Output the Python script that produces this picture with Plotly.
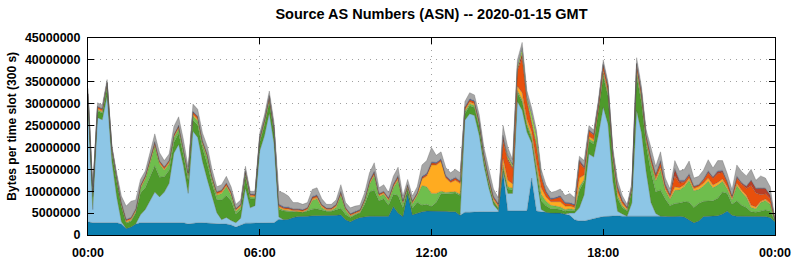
import pandas as pd
import plotly.graph_objects as go

# 10-minute slots over 2020-01-15 (in millions of bytes per 300 s slot)
times = pd.date_range("2020-01-15 00:00", periods=145, freq="10min")

dark_blue = [3, 2.8, 2.8, 2.8, 2.7, 2.8, 2.8, 2.5, 1.5, 1.8,
             2.5, 2.8, 2.8, 2.8, 2.8, 2.7, 2.8, 2.8, 2.7, 2.7,
             2.8, 2.5, 2.7, 2.8, 2.8, 2.7, 2.7, 2.6, 2.5, 2.5,
             2.3, 1.8, 2.3, 2.7, 2.7, 2.7, 2.7, 2.7, 2.8, 2.8,
             3.6, 3.5, 3.6, 4, 4.2, 4.2, 4.3, 4.4, 4.4, 4.4,
             4.4, 4.4, 4.5, 4.6, 3.5, 3, 3.6, 4, 4.2, 4.3,
             4.3, 4.3, 4.3, 4.3, 6.5, 5, 4.2, 9.5, 4.6, 5,
             5.3, 5.5, 5.5, 5.5, 5.5, 5.4, 5.3, 5.3, 4.5, 5.2,
             5.2, 5.3, 5.3, 5.3, 5.3, 5.4, 5.3, 14.5, 5.5, 5.5,
             5.5, 5.5, 5.5, 13, 5.5, 5.3, 5.2, 5, 5, 5,
             4.8, 4.5, 3.5, 3.2, 3.2, 3.5, 3.8, 4, 4.2, 4.3,
             4.4, 4.4, 4.3, 4.3, 4.3, 4.4, 4.4, 4.4, 4.4, 4.4,
             4.3, 4.2, 4.2, 4.2, 4.3, 4.1, 3.5, 2.8, 3.2, 4.2,
             4.3, 4.3, 4.4, 4.8, 5.5, 4.5, 4.3, 4.3, 4.3, 4.3,
             4.2, 4.2, 4.2, 4, 3]
light_blue = [26, 3, 24, 23.5, 29, 14, 6, .5, 0, 0,
              0, 1.8, 3, 5, 7, 6, 7, 9, 16, 18,
              13, 7, 21, 19.5, 14, 10, 6, 2.5, 1, 1.5,
              1, 1, 1.5, 8, 3.5, 4, 16.5, 20, 25, 18,
              .5, 0, 0, 0, 0, 0, 0, 0, 0, 0,
              0, 0, 0, 0, 0, 0, 0, 0, 0, 0,
              0, 0, 0, 0, 0, 0, 0, 0, 0, 0,
              0, 0, 0, 0, 0, 0, 0, 0, 0, 21,
              22.5, 22, 17.5, 10.5, 5.5, 1.5, .3, 0, 4, 4,
              25, 23, 18, 8, 8, .5, 0, 0, 0, 0,
              0, .5, 1.5, 3, 6, 15, 14, 19, 25, 21,
              8, 1, .5, 0, 3, 24, 19, 10, 3, .5,
              0, 0, 0, 0, 0, 0, 0, 0, 0, 0,
              0, 0, 0, 0, 0, 0, 0, 0, 0, 0,
              0, 0, 0, 0, 0]
dark_green = [2, 3, 1.5, 1.5, 2, 2, 3.5, 3.5, 1.2, 1.3,
              2.5, 5, 5, 5.5, 6, 4.5, 3.5, 3, 2.5, 2.5,
              2.5, 3, 2.5, 2.8, 3, 3.5, 3, 3, 4.5, 5,
              4.5, 2, 2, 2.5, 2, 1.5, 2, 2.5, 2.5, 2.5,
              1.8, 2, 1.8, 1.3, 1.2, 1, 1.2, 1.5, 1.6, 1.3,
              1, 1, 1.2, 1.5, 1.2, 1, 1, 1, 2.8, 5.5,
              6, 3.5, 4, 2.5, 2.8, 4, 2, 1, 1.5, 2.5,
              1.5, 1.5, 1, 2, 4, 4, 4.2, 4.3, 4.5, 1.5,
              1.8, 1.8, 1.8, 1.3, 1, .8, .5, 1, 1, .8,
              2, 2, 1.5, 1, 1.5, 2, 1.5, 1, 1, .8,
              .6, .6, .5, 4, 3, 3, 3, 5, 7, 6.5,
              4.5, 3, 1.5, 1.2, 2.8, 8, 7, 6, 7, 5,
              6, 4, 2.5, 3, 3, 3.5, 4, 3.5, 4, 3.5,
              3.5, 3.5, 4, 5, 4, 2.5, 3.5, 2.5, 2, 1,
              1, 1.2, 1.5, 1.5, .2]
light_green = [.5, .5, .3, .3, .5, .5, .5, .3, .2, .2,
               .3, 1, 2, 3.5, 4.5, 3, 1.5, 1.5, 1, 1,
               1, 1, 1, 1, 1, 1.5, 1, 1, 1.5, 2,
               1.3, .6, .6, .7, .5, .4, .5, .5, .5, .4,
               .3, .2, .2, .1, 0, 0, .2, 2, 2.3, .6,
               .2, .2, .6, 3, 1, .3, .2, .2, .6, 1.8,
               3.3, 1, 1, 1, 1.5, 3.5, 1, .3, 1, 1.5,
               4.5, 4, 3, 2, .5, .3, .3, .3, .3, .5,
               .5, .5, .5, .4, .4, .2, .2, .5, .5, .4,
               .5, .5, .5, .5, .8, 1.5, 1, .8, .6, .6,
               .4, .4, .3, .8, .5, .5, .5, .5, .8, .6,
               .5, .6, .4, .2, .3, 1, 1, 1, 2, 2.5,
               4.5, 2, 1.5, 3, 3, 3.5, 5, 3.8, 3.2, 3.5,
               4.5, 3, 3, 2.5, 1, 1, 3.5, 3, 2.3, 1,
               .8, 2, 2.2, 1.5, .1]
orange = [.3, .3, .3, .3, .3, .3, .3, .3, .3, .3,
          .3, .3, .3, .3, .4, .3, .3, .3, .3, .3,
          .3, .3, .4, .4, .3, .3, .3, .3, .3, .3,
          .3, .3, .3, .3, .3, .3, .3, .3, .4, .3,
          .3, .3, .3, .2, .2, .2, .2, .3, .3, .3,
          .2, .2, .3, .3, .2, .2, .2, .2, .3, .3,
          .3, .3, .3, .3, .3, .4, .3, .3, .3, .3,
          1.5, 2.5, 6.5, 6.5, 6.8, 3.3, 2.2, 2.6, 2.5, .4,
          .4, .4, .4, .4, .4, .4, .4, 1.5, 1.5, 1,
          1, 1.5, 1, 1, 1, 1.5, 1, .8, 1, 1.2,
          .8, .6, .5, 2, 1, .5, .5, .4, .5, .5,
          .5, .8, .5, .3, .3, .5, .4, .4, .4, .5,
          .7, .5, .4, .8, .5, .4, .5, .5, .6, .6,
          .7, .6, .6, .5, .5, .4, .5, .5, .5, .5,
          .4, .3, .3, .3, .05]
red = [.4, .3, .4, .4, .3, .3, .3, .3, .3, .3,
       .3, .4, .4, .4, .5, .4, .4, .4, .4, .4,
       .4, .4, .5, .5, .4, .4, .4, .4, .4, .5,
       .4, .3, .3, .4, .3, .3, .3, .4, .5, .4,
       .3, .3, .3, .3, .3, .3, .3, .4, .4, .3,
       .3, .3, .3, .4, .3, .3, .3, .3, .3, .4,
       .5, .3, .3, .3, .4, .5, .3, .3, .3, .3,
       .4, .4, .5, .4, .4, .4, .4, .5, .4, .5,
       .5, .5, .5, .5, .5, .4, .4, 4, 4.5, 3.5,
       3.5, 8, 4, 2, 3.5, 2.3, 1, .5, .7, 1,
       .6, .6, .5, 3.5, 1.5, 1.2, 1, 1, 1.2, 1,
       .8, 1, .6, .3, .3, 1, .8, .8, .8, .7,
       1, .6, .5, 2.5, 1, .6, .6, .4, .4, .7,
       1.2, 1.5, 2, 1.5, 1, .4, 1.2, 1.3, 1.5, 4.5,
       3.2, 1.5, 1.2, 1, .05]
dark_red = [0, 0, 0, 0, 0, 0, 0, 0, 0, 0,
            0, 0, 0, 0, 0, 0, 0, 0, 0, 0,
            0, 0, 0, 0, 0, 0, 0, 0, 0, 0,
            0, 0, 0, 0, 0, 0, 0, 0, 0, 0,
            .1, 0, 0, 0, 0, 0, 0, 0, 0, 0,
            0, 0, 0, 0, 0, 0, 0, 0, 0, 0,
            0, 0, 0, 0, 0, 0, 0, 0, 0, 0,
            0, 0, 0, 0, 0, 0, 0, 0, 0, 0,
            0, 0, 0, 0, 0, 0, 0, 1, .5, .3,
            .5, 1, .5, .5, .5, .3, .2, .1, .1, .2,
            .1, 0, 0, .5, .3, .2, .2, .2, .2, .2,
            .2, .2, 0, 0, 0, .2, .2, .2, .2, .2,
            .3, .2, .1, 1.5, .5, .2, .2, .1, 0, .2,
            .3, .3, .5, .3, .2, .1, .3, .3, .5, 1.2,
            1, 1.5, 1.2, .8, 0]
yellow_green = [0] * 88 + [.5, .5, .5, 1, .5, 1.5, 2, .2] + [0] * 49
slate_blue = [.2, .1, .1, .1, .1, .1, .1, .1, .1, .1,
              .1, .1, .1, .1, .2, .1, .1, .1, .1, .2,
              .1, .1, .2, .2, .1, .1, .1, .1, .1, .1,
              .1, .1, .1, .1, .1, .1, .2, .2, .2, .2,
              .2, .2, .2, .1, .1, .1, .1, .2, .2, .1,
              .1, .1, .1, .2, .1, .1, .1, .1, .1, .2,
              .2, .1, .1, .1, .2, .2, .1, .1, .1, .1,
              .2, .2, .2, .2, .2, .2, .2, .2, .2, .2,
              .2, .2, .2, .2, .2, .2, .1, .3, .3, .2,
              .3, .3, .3, .3, .2, .2, .2, .2, .2, .2,
              .2, .2, .2, .2, .2, .2, .2, .2, .2, .2,
              .2, .2, .2, .1, .1, .2, .2, .2, .2, .2,
              .2, .2, .1, .2, .2, .2, .2, .1, .1, .1,
              .2, .1, .2, .2, .1, .1, .2, .1, .1, .1,
              .1, .1, .1, .1, 0]
gray = [1.1, 1, .8, .8, .6, .5, .8, 1.4, 3, 3.7,
        2, 1.3, 1, 1.4, 1.7, 1.8, 1.4, 1.4, 1.8, 1.9,
        1.7, 1.2, 1.6, 1.5, 1.7, 1.8, 1.5, 1.1, 1.2, 1.5,
        1.1, .9, .9, 1, .6, .7, .8, .9, 1, 1.1,
        2.9, 3.1, 2.5, 1.4, 1.4, 1.2, 1.1, 1.6, 1.6, 1.3,
        .8, .8, 1, 1.5, 1.1, 1.3, 1.2, 1, 1.4, 1.7,
        1.9, 1.3, 1.5, 1.2, 1.7, 1.9, 1, 1.2, 1.1, 1.3,
        2.6, 2.9, 3.3, 1.6, 1.6, 1.8, 1.6, 1.8, 1.8, 1.2,
        1.4, 1.3, 1.3, 1.4, 1.7, 1.6, 1.3, 2.2, 1.7, 1,
        1.2, 1.2, 1.2, 1.2, 1, 1.2, 1.4, 1.3, 1.4, 1.5,
        1.5, 2.1, 1.5, .8, 1.3, .9, .8, .7, .9, .7,
        .9, 1.3, 1, .6, .9, 1.2, 1, 1, 2, 1.7,
        2, 1.3, 1.2, 1.8, 2.1, 2.5, 2.9, 1.8, 1.9, 2,
        2.5, 2, 2.3, 2.2, 1.7, 1.4, 2.5, 2.5, 2.3, 2.4,
        1.8, 2.7, 2.3, 1.8, .1]

series = [
    ("AS 1", dark_blue, "#0b7fb0"),
    ("AS 2", light_blue, "#8dc6e6"),
    ("AS 3", dark_green, "#4e9a2b"),
    ("AS 4", light_green, "#6fbe4d"),
    ("AS 5", orange, "#ffab20"),
    ("AS 6", red, "#e8500c"),
    ("AS 7", dark_red, "#b83e26"),
    ("AS 8", yellow_green, "#a6de40"),
    ("AS 9", slate_blue, "#5466a8"),
    ("Other", gray, "#a6a6a6"),
]

fig = go.Figure()
for name, vals, col in series:
    fig.add_trace(go.Scatter(
        x=times, y=[v * 1e6 for v in vals], name=name,
        mode="lines", stackgroup="one",
        line=dict(width=0.6, color="rgba(70,70,70,0.45)"),
        fillcolor=col, hoverinfo="skip",
    ))

font_bold = dict(family="Liberation Sans, Arial, sans-serif", size=12.5, color="black", weight="bold")

fig.update_layout(
    width=795, height=260,
    margin=dict(l=88, r=20, t=38, b=25),
    paper_bgcolor="white", plot_bgcolor="white",
    showlegend=False,
    title=dict(text="Source AS Numbers (ASN) -- 2020-01-15 GMT",
               x=0.5, xref="paper", y=1 - 14 / 260, yref="container", yanchor="middle",
               font=dict(family="Liberation Sans, Arial, sans-serif", size=14.5, color="black", weight="bold")),
    annotations=[dict(text="Bytes per time slot (300 s)", textangle=-90,
                      xref="paper", yref="paper", x=(12 - 88) / 687, y=0.55,
                      xanchor="center", yanchor="middle", showarrow=False,
                      font=dict(family="Liberation Sans, Arial, sans-serif", size=12, color="black", weight="bold"))],
)

fig.update_xaxes(
    type="date", automargin=False,
    range=["2020-01-15 00:00", "2020-01-16 00:00"],
    tickvals=["2020-01-15 00:00", "2020-01-15 06:00", "2020-01-15 12:00",
              "2020-01-15 18:00", "2020-01-16 00:00"],
    ticktext=["00:00", "06:00", "12:00", "18:00", "00:00"],
    showgrid=True, gridcolor="#a0a0a0", griddash="1px,5px", gridwidth=1,
    showline=True, linecolor="black", linewidth=1, mirror="ticks",
    ticks="inside", ticklen=6, tickcolor="black",
    tickfont=font_bold, ticklabelstandoff=6,
    zeroline=False,
)
fig.update_yaxes(
    range=[0, 45e6], automargin=False,
    tickvals=[i * 5e6 for i in range(10)],
    tickformat=".0f",
    showgrid=True, gridcolor="#a0a0a0", griddash="1px,5px", gridwidth=1,
    showline=True, linecolor="black", linewidth=1, mirror="ticks",
    ticks="inside", ticklen=6, tickcolor="black",
    tickfont=font_bold, ticklabelstandoff=4,
    zeroline=False,
)

fig.write_html("out.html")
